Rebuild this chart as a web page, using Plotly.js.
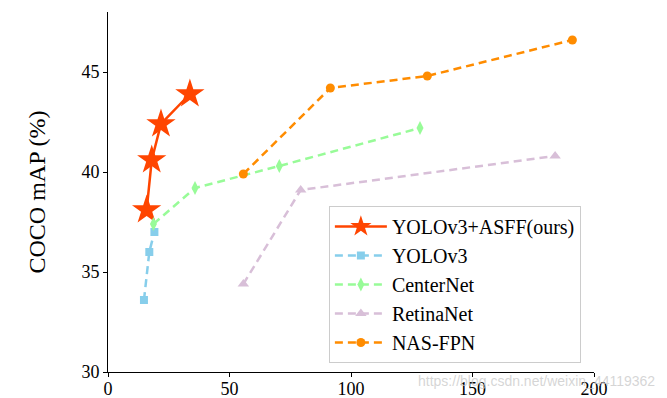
<!DOCTYPE html>
<html>
<head>
<meta charset="utf-8">
<script src="https://cdn.plot.ly/plotly-3.0.1.min.js"></script>
<style>body{margin:0;padding:0;background:#fff;} #chart{width:667px;height:398px;}</style>
</head>
<body>
<div id="chart"></div>
<script>
// Data (x: inference time ms, y: COCO mAP %)
const asffX = [15.9, 18.0, 21.8, 33.7];
const asffY = [38.1, 40.6, 42.4, 43.9];
const yoloX = [14.8, 17.0, 19.1];
const yoloY = [33.6, 36.0, 37.0];
const centerX = [18.7, 35.8, 70.5, 128.4];
const centerY = [37.4, 39.2, 40.3, 42.2];
const retinaX = [55.7, 79.3, 184.0];
const retinaY = [34.4, 39.1, 40.8];
const nasX = [55.7, 91.5, 131.4, 191.1];
const nasY = [39.9, 44.2, 44.8, 46.6];
const seriesNames = ['YOLOv3+ASFF(ours)', 'YOLOv3', 'CenterNet', 'RetinaNet', 'NAS-FPN'];
const xTicks = [0, 50, 100, 150, 200];
const yTicks = [30, 35, 40, 45];

const traces = [
  {x: asffX, y: asffY, name: seriesNames[0], mode: 'lines+markers',
   line: {color: '#FF4500', width: 2.5},
   marker: {symbol: 'star', size: 22, color: '#FF4500'}},
  {x: yoloX, y: yoloY, name: seriesNames[1], mode: 'lines+markers',
   line: {color: '#87CEEB', width: 2.5, dash: '8px,5px'},
   marker: {symbol: 'square', size: 8, color: '#87CEEB'}},
  {x: centerX, y: centerY, name: seriesNames[2], mode: 'lines+markers',
   line: {color: '#98FB98', width: 2.5, dash: '8px,5px'},
   marker: {symbol: 'diamond-tall', size: 10, color: '#98FB98'}},
  {x: retinaX, y: retinaY, name: seriesNames[3], mode: 'lines+markers',
   line: {color: '#D8BFD8', width: 2.5, dash: '8px,5px'},
   marker: {symbol: 'triangle-up', size: 10, color: '#D8BFD8'}},
  {x: nasX, y: nasY, name: seriesNames[4], mode: 'lines+markers',
   line: {color: '#FF8C00', width: 2.5, dash: '8px,5px'},
   marker: {symbol: 'circle', size: 9, color: '#FF8C00'}},
  // invisible trace on overlay axis that carries the x tick marks
  {x: [0, 200], y: [30, 30], xaxis: 'x2', mode: 'none', showlegend: false, hoverinfo: 'skip'}
];

const font = {family: '"Liberation Serif", "Times New Roman", serif', color: '#000'};

const layout = {
  width: 667, height: 398,
  margin: {l: 108, r: 73, t: 12, b: 26},
  paper_bgcolor: '#fff', plot_bgcolor: '#fff',
  font: Object.assign({size: 18}, font),
  showlegend: true,
  xaxis: {
    range: [0, 200], tickvals: xTicks, ticktext: xTicks.map(String),
    showgrid: false, zeroline: false, showline: true, linecolor: '#000', linewidth: 1,
    ticks: '', tickfont: Object.assign({size: 18}, font)
  },
  xaxis2: {
    range: [0, 200], tickvals: xTicks, overlaying: 'x', anchor: 'y', side: 'bottom',
    showgrid: false, zeroline: false, showline: false, showticklabels: false,
    ticks: 'outside', ticklen: 4, tickcolor: '#000'
  },
  yaxis: {
    range: [30, 48], tickvals: yTicks, ticktext: yTicks.map(String),
    showgrid: false, zeroline: false, showline: true, linecolor: '#000', linewidth: 1,
    ticks: 'outside', ticklen: 4, tickcolor: '#000',
    tickfont: Object.assign({size: 18}, font),
    title: {text: 'COCO mAP (%)', font: Object.assign({size: 24}, font), standoff: 29}
  },
  legend: {
    x: 0.973, y: 0.025, xanchor: 'right', yanchor: 'bottom',
    bgcolor: 'rgba(255,255,255,0.85)', bordercolor: '#cccccc', borderwidth: 1,
    font: Object.assign({size: 20}, font),
    tracegroupgap: 0, itemwidth: 52
  },
  annotations: [{
    text: 'https://blog.csdn.net/weixin_44119362', xref: 'paper', yref: 'paper',
    x: 1.13, y: -0.025, xanchor: 'right', yanchor: 'middle', showarrow: false,
    font: {family: 'Liberation Sans, Arial, sans-serif', size: 14, color: 'rgba(200,200,200,0.75)'}
  }]
};

Plotly.newPlot('chart', traces, layout, {displayModeBar: false, staticPlot: true});
</script>
</body>
</html>
